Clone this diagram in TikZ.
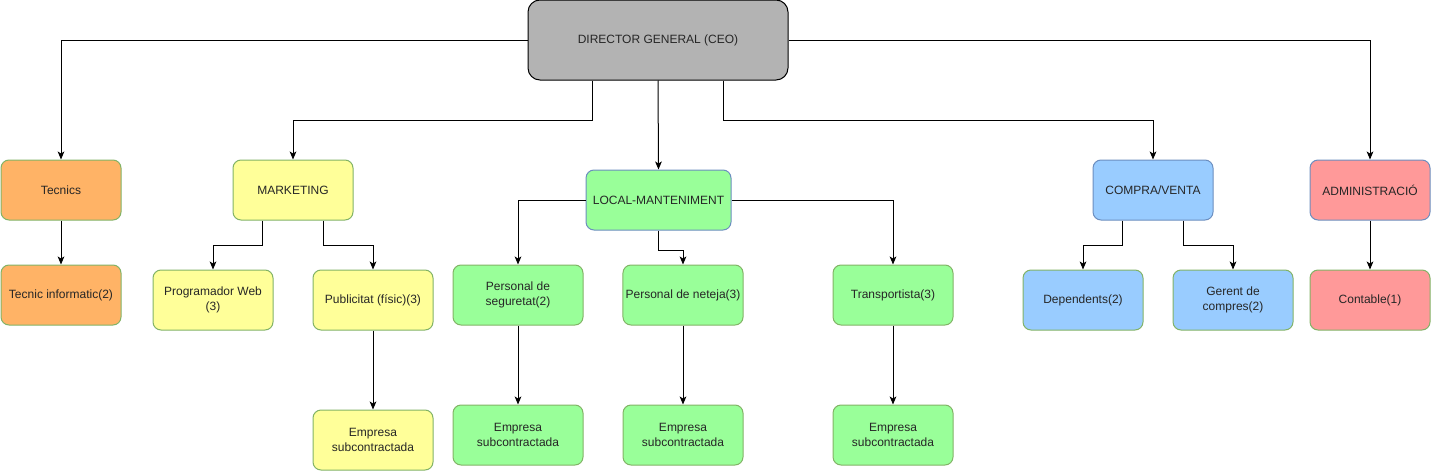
\documentclass[tikz,border=0pt]{standalone}
\usepackage{fontspec}
\setmainfont{Liberation Sans}
\usetikzlibrary{arrows.meta,calc}

\definecolor{ceofill}{HTML}{B3B3B3}
\definecolor{orangefill}{HTML}{FFB366}
\definecolor{yellowfill}{HTML}{FFFF99}
\definecolor{greenfill}{HTML}{99FF99}
\definecolor{bluefill}{HTML}{99CCFF}
\definecolor{redfill}{HTML}{FF9999}
\definecolor{greenline}{HTML}{82B366}
\definecolor{blueline}{HTML}{6C8EBF}

\begin{document}
\begin{tikzpicture}[x=0.75pt, y=-0.75pt,
  every node/.style = {shape=rectangle, rounded corners=6pt,
    draw=greenline, line width=0.75pt, align=center,
    minimum width=90pt, minimum height=45pt, inner sep=2pt,
    font=\fontsize{9}{11}\selectfont, text=black!85},
  link/.style = {draw, line width=0.75pt,
    -{Stealth[length=6pt, width=5pt, inset=1.5pt]}}]
  \useasboundingbox (0,0) rectangle (1431,471);

  % top
  \node[fill=ceofill, draw=black, minimum width=195pt, minimum height=60pt,
    rounded corners=9pt] (ceo) at (658,40) {DIRECTOR GENERAL (CEO)};

  % departments
  \node[fill=orangefill] (tec) at (61,190) {Tecnics};
  \node[fill=yellowfill] (mkt) at (293,190) {MARKETING};
  \node[fill=greenfill, draw=blueline, minimum width=108.75pt] (loc) at (658.5,200) {LOCAL-MANTENIMENT};
  \node[fill=bluefill, draw=blueline] (cv) at (1153,190) {COMPRA/VENTA};
  \node[fill=redfill, draw=blueline] (adm) at (1370,190) {ADMINISTRACIÓ};

  % staff
  \node[fill=orangefill] (tinf) at (61,295) {Tecnic informatic(2)};
  \node[fill=yellowfill] (web) at (213,300) {Programador Web\\(3)};
  \node[fill=yellowfill] (pub) at (373,300) {Publicitat (físic)(3)};
  \node[fill=greenfill, minimum width=97.5pt] (seg) at (518,295) {Personal de\\seguretat(2)};
  \node[fill=greenfill] (net) at (683,295) {Personal de neteja(3)};
  \node[fill=greenfill] (tra) at (893,295) {Transportista(3)};
  \node[fill=bluefill] (dep) at (1083,300) {Dependents(2)};
  \node[fill=bluefill] (ger) at (1233,300) {Gerent de\\compres(2)};
  \node[fill=redfill] (con) at (1370,300) {Contable(1)};

  % subcontracted
  \node[fill=yellowfill] (sub1) at (373,440) {Empresa\\subcontractada};
  \node[fill=greenfill, minimum width=97.5pt] (sub2) at (518,435) {Empresa\\subcontractada};
  \node[fill=greenfill] (sub3) at (683,435) {Empresa\\subcontractada};
  \node[fill=greenfill] (sub4) at (893,435) {Empresa\\subcontractada};

  % ceo -> departments
  \draw[link] (ceo.west) -| (tec.north);
  \draw[link] ($(ceo.south west)!.25!(ceo.south east)$) -- ++(0,40) -| (mkt.north);
  \draw[link] (ceo.south) -- (loc.north);
  \draw[link] ($(ceo.south west)!.75!(ceo.south east)$) -- ++(0,40) -| (cv.north);
  \draw[link] (ceo.east) -| (adm.north);

  % departments -> staff
  \draw[link] (tec) -- (tinf);
  \draw[link] ($(mkt.south west)!.25!(mkt.south east)$) -- ++(0,25) -| (web.north);
  \draw[link] ($(mkt.south west)!.75!(mkt.south east)$) -- ++(0,25) -| (pub.north);
  \draw[link] (loc.west) -| (seg.north);
  \draw[link] (loc.south) -- ++(0,20) -| (net.north);
  \draw[link] (loc.east) -| (tra.north);
  \draw[link] ($(cv.south west)!.25!(cv.south east)$) -- ++(0,25) -| (dep.north);
  \draw[link] ($(cv.south west)!.75!(cv.south east)$) -- ++(0,25) -| (ger.north);
  \draw[link] (adm) -- (con);

  % staff -> subcontracted
  \draw[link] (pub) -- (sub1);
  \draw[link] (seg) -- (sub2);
  \draw[link] (net) -- (sub3);
  \draw[link] (tra) -- (sub4);
\end{tikzpicture}
\end{document}
